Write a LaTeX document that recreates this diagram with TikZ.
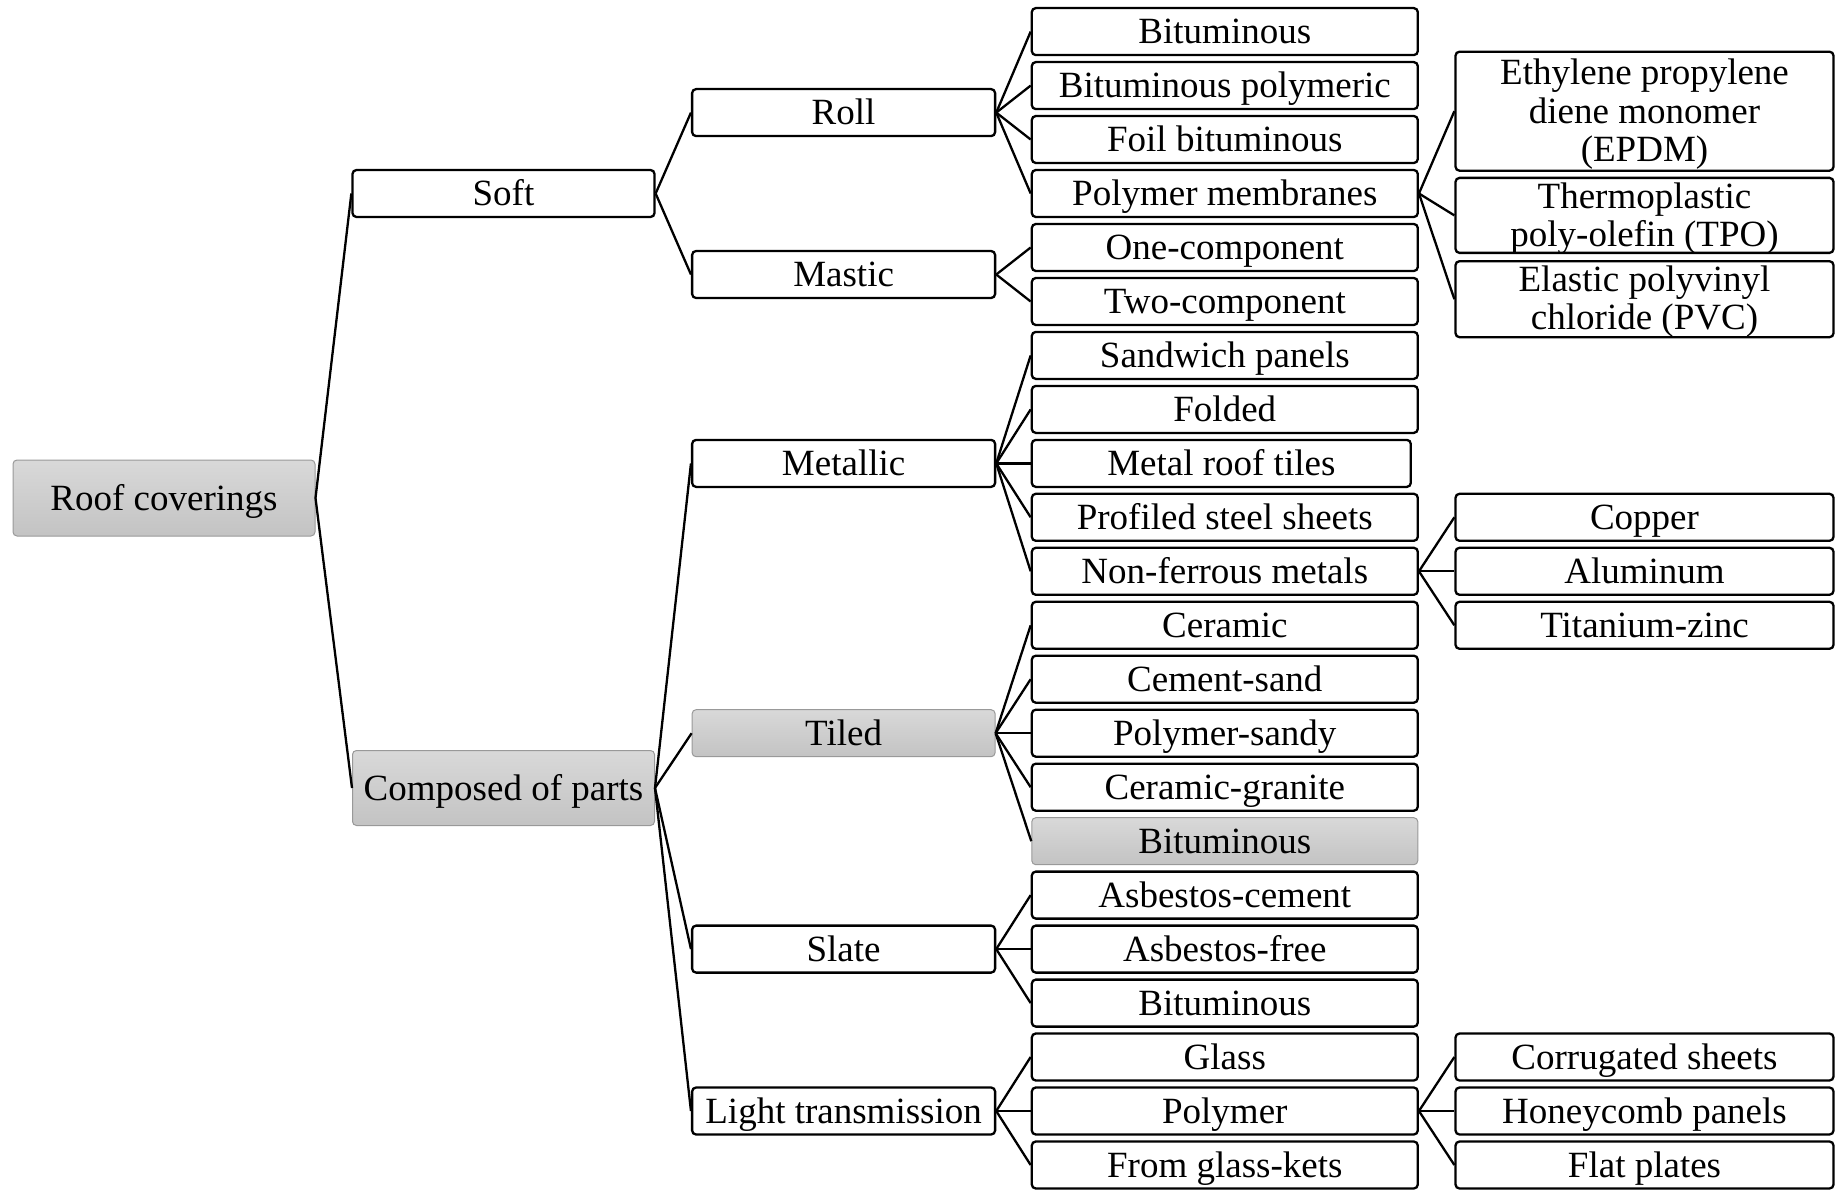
\documentclass[tikz,border=0pt]{standalone}
\usepackage{fontspec}
\setmainfont{Liberation Serif}

\begin{document}
\begin{tikzpicture}[x=1pt,y=-1pt,
  box/.style={draw, line width=2.3pt, rounded corners=4pt, inner sep=0pt, align=center,
    minimum height=47pt, font=\fontsize{37}{38.6}\selectfont},
  line/.style={box, text height=30pt, text depth=6pt},
  shaded/.style={draw=gray!80, line width=1pt, top color=gray!30, bottom color=gray!47},
  link/.style={line width=2.3pt}]
\useasboundingbox (0,0) rectangle (1836,1190);

\node[line, shaded, minimum width=302pt, minimum height=76pt] (roof) at (164,498) {Roof coverings};

\node[line, minimum width=302pt] (soft) at (503.5,193.5) {Soft};
\node[line, shaded, minimum width=302pt, minimum height=75pt] (parts) at (503.5,788) {Composed of parts};

\node[line, minimum width=303pt] (roll) at (843.6,112.6) {Roll};
\node[line, minimum width=303pt] (mastic) at (843.6,274.5) {Mastic};
\node[line, minimum width=303pt] (metallic) at (843.6,463.4) {Metallic};
\node[line, shaded, minimum width=303pt] (tiled) at (843.6,733.2) {Tiled};
\node[line, minimum width=303pt] (slate) at (843.6,949.1) {Slate};
\node[line, minimum width=303pt] (light) at (843.6,1111) {Light transmission};

\node[line, minimum width=386pt] (bit) at (1224.8,31.6) {Bituminous};
\node[line, minimum width=386pt] (bitpol) at (1224.8,85.6) {Bituminous polymeric};
\node[line, minimum width=386pt] (foil) at (1224.8,139.5) {Foil bituminous};
\node[line, minimum width=386pt] (membr) at (1224.8,193.5) {Polymer membranes};
\node[line, minimum width=386pt] (one) at (1224.8,247.5) {One-component};
\node[line, minimum width=386pt] (two) at (1224.8,301.5) {Two-component};
\node[line, minimum width=386pt] (sandw) at (1224.8,355.4) {Sandwich panels};
\node[line, minimum width=386pt] (folded) at (1224.8,409.4) {Folded};
\node[line, minimum width=379pt] (tiles) at (1221.3,463.4) {Metal roof tiles};
\node[line, minimum width=386pt] (steel) at (1224.8,517.3) {Profiled steel sheets};
\node[line, minimum width=386pt] (nonfer) at (1224.8,571.3) {Non-ferrous metals};
\node[line, minimum width=386pt] (ceramic) at (1224.8,625.3) {Ceramic};
\node[line, minimum width=386pt] (cement) at (1224.8,679.2) {Cement-sand};
\node[line, minimum width=386pt] (sandy) at (1224.8,733.2) {Polymer-sandy};
\node[line, minimum width=386pt] (granite) at (1224.8,787.2) {Ceramic-granite};
\node[line, shaded, minimum width=386pt] (tilebit) at (1224.8,841.2) {Bituminous};
\node[line, minimum width=386pt] (asbc) at (1224.8,895.1) {Asbestos-cement};
\node[line, minimum width=386pt] (asbf) at (1224.8,949.1) {Asbestos-free};
\node[line, minimum width=386pt] (slatebit) at (1224.8,1003.1) {Bituminous};
\node[line, minimum width=386pt] (glass) at (1224.8,1057) {Glass};
\node[line, minimum width=386pt] (polymer) at (1224.8,1111) {Polymer};
\node[line, minimum width=386pt] (kets) at (1224.8,1165) {From glass-kets};

\node[box, minimum width=378pt, minimum height=119pt, text height=109.5pt, text depth=8pt] (epdm) at (1644.5,111.2) {Ethylene propylene\\diene monomer\\(EPDM)};
\node[box, minimum width=378pt, minimum height=75pt, text height=69pt, text depth=6pt] (tpo) at (1644.5,215.4) {Thermoplastic\\poly-olefin (TPO)};
\node[box, minimum width=378pt, minimum height=76pt, text height=67.5pt, text depth=6pt] (pvc) at (1644.5,299.2) {Elastic polyvinyl\\chloride (PVC)};
\node[line, minimum width=378pt] (copper) at (1644.5,517.3) {Copper};
\node[line, minimum width=378pt] (alu) at (1644.5,571.3) {Aluminum};
\node[line, minimum width=378pt] (zinc) at (1644.5,625.3) {Titanium-zinc};
\node[line, minimum width=378pt] (corr) at (1644.5,1057) {Corrugated sheets};
\node[line, minimum width=378pt] (honey) at (1644.5,1111) {Honeycomb panels};
\node[line, minimum width=378pt] (flat) at (1644.5,1165) {Flat plates};

\draw[link] (roof.east) -- (soft.west);
\draw[link] (roof.east) -- (parts.west);

\draw[link] (soft.east) -- (roll.west);
\draw[link] (soft.east) -- (mastic.west);
\draw[link] (parts.east) -- (metallic.west);
\draw[link] (parts.east) -- (tiled.west);
\draw[link] (parts.east) -- (slate.west);
\draw[link] (parts.east) -- (light.west);

\draw[link] (roll.east) -- (bit.west);
\draw[link] (roll.east) -- (bitpol.west);
\draw[link] (roll.east) -- (foil.west);
\draw[link] (roll.east) -- (membr.west);
\draw[link] (mastic.east) -- (one.west);
\draw[link] (mastic.east) -- (two.west);
\draw[link] (metallic.east) -- (sandw.west);
\draw[link] (metallic.east) -- (folded.west);
\draw[link] (metallic.east) -- (tiles.west);
\draw[link] (metallic.east) -- (steel.west);
\draw[link] (metallic.east) -- (nonfer.west);
\draw[link] (tiled.east) -- (ceramic.west);
\draw[link] (tiled.east) -- (cement.west);
\draw[link] (tiled.east) -- (sandy.west);
\draw[link] (tiled.east) -- (granite.west);
\draw[link] (tiled.east) -- (tilebit.west);
\draw[link] (slate.east) -- (asbc.west);
\draw[link] (slate.east) -- (asbf.west);
\draw[link] (slate.east) -- (slatebit.west);
\draw[link] (light.east) -- (glass.west);
\draw[link] (light.east) -- (polymer.west);
\draw[link] (light.east) -- (kets.west);

\draw[link] (membr.east) -- (epdm.west);
\draw[link] (membr.east) -- (tpo.west);
\draw[link] (membr.east) -- (pvc.west);
\draw[link] (nonfer.east) -- (copper.west);
\draw[link] (nonfer.east) -- (alu.west);
\draw[link] (nonfer.east) -- (zinc.west);
\draw[link] (polymer.east) -- (corr.west);
\draw[link] (polymer.east) -- (honey.west);
\draw[link] (polymer.east) -- (flat.west);
\end{tikzpicture}
\end{document}
